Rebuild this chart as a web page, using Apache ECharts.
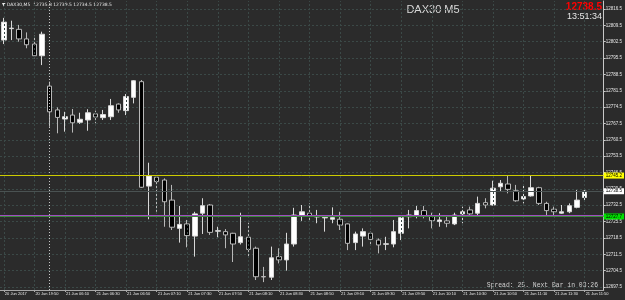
<!DOCTYPE html>
<html><head><meta charset="utf-8">
<script src="https://cdn.jsdelivr.net/npm/echarts@6/dist/echarts.min.js"></script>
<style>html,body{margin:0;padding:0;background:#2b2b2b}#c{width:625px;height:300px}</style>
</head><body><div id="c"></div>
<script>
const categories = [
'20 Jun 19:30','20 Jun 19:35','20 Jun 19:40','20 Jun 19:45','20 Jun 19:50','20 Jun 19:55',
'21 Jun 06:00','21 Jun 06:05','21 Jun 06:10','21 Jun 06:15','21 Jun 06:20','21 Jun 06:25','21 Jun 06:30','21 Jun 06:35','21 Jun 06:40','21 Jun 06:45','21 Jun 06:50','21 Jun 06:55',
'21 Jun 07:00','21 Jun 07:05','21 Jun 07:10','21 Jun 07:15','21 Jun 07:20','21 Jun 07:25','21 Jun 07:30','21 Jun 07:35','21 Jun 07:40','21 Jun 07:45','21 Jun 07:50','21 Jun 07:55',
'21 Jun 08:00','21 Jun 08:05','21 Jun 08:10','21 Jun 08:15','21 Jun 08:20','21 Jun 08:25','21 Jun 08:30','21 Jun 08:35','21 Jun 08:40','21 Jun 08:45','21 Jun 08:50','21 Jun 08:55',
'21 Jun 09:00','21 Jun 09:05','21 Jun 09:10','21 Jun 09:15','21 Jun 09:20','21 Jun 09:25','21 Jun 09:30','21 Jun 09:35','21 Jun 09:40','21 Jun 09:45','21 Jun 09:50','21 Jun 09:55',
'21 Jun 10:00','21 Jun 10:05','21 Jun 10:10','21 Jun 10:15','21 Jun 10:20','21 Jun 10:25','21 Jun 10:30','21 Jun 10:35','21 Jun 10:40','21 Jun 10:45','21 Jun 10:50','21 Jun 10:55',
'21 Jun 11:00','21 Jun 11:05','21 Jun 11:10','21 Jun 11:15','21 Jun 11:20','21 Jun 11:25','21 Jun 11:30','21 Jun 11:35','21 Jun 11:40','21 Jun 11:45','21 Jun 11:50','21 Jun 11:55','21 Jun 12:00'
];
const opens = [12803.2,12808.1,12807.8,12803.7,12801.5,12796.5,12783.5,12773.3,12769.4,12771.1,12768.0,12769.0,12771.6,12770.0,12770.4,12775.8,12773.0,12778.7,12785.4,12740.7,12744.5,12743.3,12734.7,12722.6,12724.5,12719.3,12729.1,12732.6,12721.4,12721.2,12720.5,12716.5,12718.8,12714.1,12702.0,12701.7,12710.5,12709.1,12715.9,12728.0,12729.1,12727.5,12727.1,12726.5,12726.5,12724.5,12716.5,12719.3,12720.5,12717.6,12715.8,12715.9,12720.5,12727.6,12728.0,12730.2,12728.0,12725.5,12725.8,12724.5,12728.8,12730.5,12729.1,12733.6,12732.6,12740.4,12741.6,12738.7,12735.2,12736.5,12740.0,12733.3,12730.8,12729.1,12729.7,12731.6,12735.8];
const closes = [12810.9,12808.3,12803.7,12801.2,12796.5,12805.7,12772.5,12770.1,12770.4,12767.8,12769.3,12772.1,12770.3,12771.3,12775.1,12773.3,12779.0,12785.8,12740.2,12745.0,12742.6,12734.0,12723.1,12724.3,12719.5,12728.8,12732.3,12720.9,12721.6,12719.8,12715.9,12719.0,12713.6,12701.9,12701.8,12710.0,12709.1,12715.9,12728.3,12729.7,12727.9,12727.7,12727.3,12727.2,12724.0,12716.2,12720.2,12721.2,12717.9,12715.5,12716.0,12721.2,12727.2,12728.3,12730.2,12728.0,12725.9,12726.2,12724.8,12728.3,12729.7,12728.8,12733.3,12732.6,12739.8,12741.9,12739.3,12734.4,12736.2,12740.0,12733.3,12730.2,12729.7,12729.7,12732.3,12734.7,12738.5];
const lows = [12801.5,12803.2,12802.5,12799.7,12795.4,12792.5,12766.1,12763.3,12764.0,12763.6,12767.3,12764.4,12767.6,12769.0,12769.0,12772.1,12771.1,12776.1,12739.9,12726.5,12729.7,12723.3,12721.9,12716.5,12714.5,12710.5,12720.2,12719.8,12718.8,12714.1,12708.2,12715.7,12710.5,12700.5,12699.6,12700.5,12707.6,12704.5,12714.8,12725.8,12725.5,12724.8,12721.2,12724.8,12721.9,12713.3,12713.3,12714.8,12715.5,12711.9,12713.3,12714.5,12717.6,12722.6,12726.9,12726.9,12722.6,12723.3,12723.1,12724.0,12724.8,12727.6,12728.3,12731.2,12732.4,12738.3,12737.6,12734.0,12733.3,12736.2,12732.6,12727.6,12728.3,12728.8,12729.1,12731.2,12734.5];
const highs = [12812.7,12811.5,12809.7,12806.5,12805.1,12806.8,12785.4,12774.4,12772.5,12773.7,12772.1,12773.6,12773.0,12773.3,12778.0,12776.1,12780.1,12786.1,12786.1,12750.7,12745.0,12744.0,12741.2,12732.2,12726.2,12729.7,12735.5,12733.0,12723.3,12722.3,12720.7,12729.3,12725.0,12714.8,12706.1,12714.8,12714.1,12720.7,12731.4,12732.6,12733.3,12730.5,12728.3,12731.6,12729.7,12724.7,12721.2,12722.6,12721.2,12718.3,12719.0,12726.2,12728.3,12730.5,12732.2,12732.2,12729.3,12729.1,12728.3,12729.3,12731.9,12731.9,12736.2,12735.5,12743.0,12743.3,12745.4,12741.2,12741.2,12745.4,12740.4,12734.0,12731.9,12732.6,12733.3,12739.0,12739.5];
const priceTicks = [12697.5,12704.5,12711.5,12718.5,12725.5,12732.5,12739.5,12746.5,12753.5,12760.5,12767.5,12774.5,12781.5,12788.5,12795.5,12802.5,12809.5,12816.5];
const timeTickLabels = ['20 Jun 2017','20 Jun 19:50','21 Jun 06:10','21 Jun 06:30','21 Jun 06:50','21 Jun 07:10','21 Jun 07:30','21 Jun 07:50','21 Jun 08:10','21 Jun 08:30','21 Jun 08:50','21 Jun 09:10','21 Jun 09:30','21 Jun 09:50','21 Jun 10:10','21 Jun 10:30','21 Jun 10:50','21 Jun 11:10','21 Jun 11:30','21 Jun 11:50'];
const timeTickIndex = [0,4,8,12,16,20,24,28,32,36,40,44,48,52,56,60,64,68,72,76];
const daySeparatorIndex = 6;
const levelYellow = 12745.2;
const levelGreen = 12727.7;
const levelPurple = 12728.1;
const bidPrice = 12738.5;
const headerSymbol = 'DAX30,M5';
const headerOHLC = [12735.8, 12739.5, 12734.5, 12738.5];
const chartTitle = 'DAX30 M5';
const clockText = '13:51:34';
const spreadText = 'Spread: 25. Next Bar in 03:26';

const candleData = opens.map((o, i) => [o, closes[i], lows[i], highs[i]]);
const gridColor = '#3b4947';

const gridMarks = timeTickIndex.map(i => ({xAxis: categories[i], lineStyle: {color: gridColor, type: [2, 2], width: 1}}));
gridMarks.push({xAxis: categories[daySeparatorIndex], lineStyle: {color: '#c8c8c8', type: [1, 2], width: 1}});

function levelLabel(bg) {
  return {show: true, position: 'end', distance: 0, formatter: p => p.value.toFixed(1), color: '#000', backgroundColor: bg, fontSize: 4.5, padding: [0.5, 2], fontFamily: 'Liberation Sans'};
}
function levelSeries(value, color, labelBg, z) {
  return {
    type: 'line', data: [], z: z, silent: true, color: color,
    markLine: {silent: true, symbol: ['none', 'none'], animation: false,
      lineStyle: {color: color, type: 'solid', width: 1},
      emphasis: {disabled: true},
      label: labelBg ? levelLabel(labelBg) : {show: false},
      data: [{yAxis: value}]}
  };
}

const chart = echarts.init(document.getElementById('c'), null, {renderer: 'canvas'});
chart.setOption({
  backgroundColor: '#2b2b2b',
  animation: false,
  grid: {left: -2.65, right: 19.35, top: 1, bottom: 10},
  xAxis: {
    type: 'category', data: categories, boundaryGap: true,
    axisLine: {show: true, lineStyle: {color: '#a8a8a8', width: 1}},
    axisTick: {show: true, interval: 3, alignWithLabel: true, length: 2, lineStyle: {color: '#a8a8a8'}},
    axisLabel: {interval: 3, align: 'left', color: '#e6e6e6', fontSize: 4, margin: 2, fontFamily: 'Liberation Sans',
      padding: [0, 0, 0, 1],
      formatter: (v, idx) => { const k = timeTickIndex.indexOf(idx); return k >= 0 ? timeTickLabels[k] : ''; }},
    splitLine: {show: false}
  },
  yAxis: {
    type: 'value', position: 'right', min: 12696.22, max: 12819.93,
    axisLine: {show: true, lineStyle: {color: '#c8c8c8', width: 1}},
    axisTick: {show: true, length: 2, customValues: priceTicks, lineStyle: {color: '#c8c8c8'}},
    axisLabel: {customValues: priceTicks, color: '#e6e6e6', fontSize: 4.5, margin: 2, fontFamily: 'Liberation Sans',
      formatter: v => v.toFixed(1)},
    splitLine: {show: true, lineStyle: {color: gridColor, type: [2, 2], width: 1}}
  },
  series: [
    {
      type: 'line', data: [], z: 1, silent: true,
      markLine: {silent: true, symbol: ['none', 'none'], label: {show: false}, animation: false, data: gridMarks}
    },
    levelSeries(bidPrice, '#4a5252', '#ffffff', 2),
    {
      type: 'candlestick', data: candleData, z: 3, barWidth: 5,
      itemStyle: {color: '#ffffff', color0: '#000000', borderColor: '#d8d8d8', borderColor0: '#b8b8b8', borderColorDoji: '#a0a0a0', borderWidth: 1}
    },
    levelSeries(levelYellow, '#cccc00', '#ffff00', 4),
    levelSeries(levelPurple, '#a04cc0', null, 4),
    levelSeries(levelGreen, '#3a8a3a', '#00e000', 4)
  ],
  graphic: [
    {type: 'text', left: 2, top: 2, silent: true, style: {text: '▼ ' + headerSymbol + '  ' + headerOHLC.map(v => v.toFixed(1)).join(' '), fill: '#e6e6e6', font: '4.5px "DejaVu Sans"'}},
    {type: 'text', x: 433, y: 9.5, silent: true, style: {text: chartTitle, fill: '#d8d8d8', font: '11px "Liberation Sans"', align: 'center', verticalAlign: 'middle'}},
    {type: 'text', x: 602, y: 7.5, silent: true, style: {text: closes[closes.length - 1].toFixed(1), fill: '#ff0000', font: 'bold 10px "Liberation Sans"', align: 'right', verticalAlign: 'middle'}},
    {type: 'text', x: 602, y: 16.5, silent: true, style: {text: clockText, fill: '#e6e6e6', font: '9px "Liberation Sans"', align: 'right', verticalAlign: 'middle'}},
    {type: 'text', x: 598, y: 285.5, silent: true, style: {text: spreadText, fill: '#d0d0d0', font: '6.4px "Liberation Mono"', align: 'right', verticalAlign: 'middle'}}
  ]
});
</script></body></html>
